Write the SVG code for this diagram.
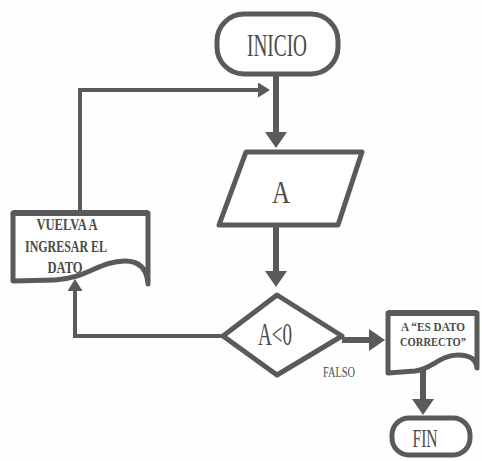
<svg xmlns="http://www.w3.org/2000/svg" width="482" height="461" viewBox="0 0 482 461">
  <defs>
    <style>
      .shape { fill: #ffffff; stroke: #5a5a5a; stroke-width: 5; stroke-linejoin: round; }
      .flow { fill: none; stroke: #5a5a5a; stroke-width: 6; }
      .back { fill: none; stroke: #5a5a5a; stroke-width: 4; }
      text { font-family: "Liberation Serif", "DejaVu Serif", "Times New Roman", serif; fill: #4a4a4a; text-anchor: middle; }
      .big { font-size: 31px; }
      .doc { font-size: 17px; font-weight: bold; }
      .doc2 { font-size: 13px; font-weight: bold; }
      .small { font-size: 14px; }
    </style>
    <marker id="headBig" markerUnits="userSpaceOnUse" viewBox="0 0 16 22" refX="2" refY="11" markerWidth="16" markerHeight="22" orient="auto">
      <path d="M0,0 L16,11 L0,22 Z" fill="#5a5a5a"/>
    </marker>
    <marker id="headSmall" markerUnits="userSpaceOnUse" viewBox="0 0 12 15" refX="2" refY="7.5" markerWidth="12" markerHeight="15" orient="auto">
      <path d="M0,0 L12,7.5 L0,15 Z" fill="#5a5a5a"/>
    </marker>
  </defs>

  <rect width="482" height="461" fill="#fefefe"/>

  <!-- connectors -->
  <g id="connectors">
    <line class="flow" x1="276" y1="74" x2="276" y2="134" marker-end="url(#headBig)"/>
    <line class="flow" x1="276" y1="225" x2="276" y2="273" marker-end="url(#headBig)"/>
    <line class="flow" x1="342" y1="340" x2="371" y2="340" marker-end="url(#headBig)"/>
    <line class="flow" x1="423" y1="366" x2="423" y2="401" marker-end="url(#headBig)"/>
    <polyline class="back" points="80,213 80,90 260,90" marker-end="url(#headSmall)"/>
    <polyline class="back" points="223,336 75,336 75,289" marker-end="url(#headSmall)"/>
  </g>

  <!-- start terminal -->
  <g id="inicio">
    <rect class="shape" x="217" y="14" width="121" height="60" rx="27" ry="27"/>
    <text class="big" x="277" y="56" textLength="60" lengthAdjust="spacingAndGlyphs">INICIO</text>
  </g>

  <!-- input A -->
  <g id="entrada">
    <polygon class="shape" stroke-width="6" points="246,152 362,152 338,225 219,225"/>
    <text class="big" x="281" y="203" textLength="18" lengthAdjust="spacingAndGlyphs">A</text>
  </g>

  <!-- decision -->
  <g id="decision">
    <polygon class="shape" stroke-width="6" points="277,295 342,336 277,375 223,336"/>
    <text class="big" x="275" y="345" textLength="34" lengthAdjust="spacingAndGlyphs">A&lt;0</text>
    <text class="small" x="339" y="377" textLength="32" lengthAdjust="spacingAndGlyphs">FALSO</text>
  </g>

  <!-- retry document -->
  <g id="reingreso">
    <path class="shape" stroke-width="4" d="M13,213 H148 V284 C147,269 140,261 125,261 C100,261 85,279 55,280 L13,281 Z"/>
    <line x1="13" y1="213" x2="148" y2="213" stroke="#5a5a5a" stroke-width="6"/>
    <text class="doc" x="67" y="230" textLength="61" lengthAdjust="spacingAndGlyphs">VUELVA A</text>
    <text class="doc" x="66" y="252" textLength="82" lengthAdjust="spacingAndGlyphs">INGRESAR EL</text>
    <text class="doc" x="65" y="273" textLength="35" lengthAdjust="spacingAndGlyphs">DATO</text>
  </g>

  <!-- output document -->
  <g id="salida">
    <path class="shape" stroke-width="4" d="M388,313 H477 V368 C476,359 470,355 458,355 C440,355 432,369 415,371 L388,373 Z"/>
    <line x1="388" y1="313" x2="477" y2="313" stroke="#5a5a5a" stroke-width="6"/>
    <text class="doc2" x="433" y="331" textLength="64" lengthAdjust="spacingAndGlyphs">A “ES DATO</text>
    <text class="doc2" x="433" y="346" textLength="66" lengthAdjust="spacingAndGlyphs">CORRECTO”</text>
  </g>

  <!-- end terminal -->
  <g id="fin">
    <rect class="shape" x="392" y="418" width="78" height="37" rx="17" ry="17"/>
    <text x="425" y="447" font-size="25" textLength="25" lengthAdjust="spacingAndGlyphs">FIN</text>
  </g>
</svg>
